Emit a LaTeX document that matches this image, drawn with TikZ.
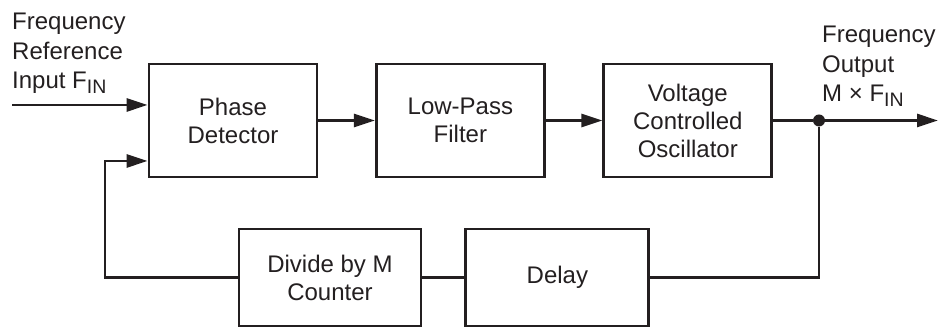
\documentclass[tikz,border=0pt]{standalone}
\usepackage{fontspec}
\setmainfont{Liberation Sans}
\usepackage{xcolor}
\definecolor{cLine}{HTML}{231F20}
\usetikzlibrary{positioning,arrows.meta}
\tikzset{
  node-box/.style={draw=cLine,line width=2.9pt,minimum height=113pt,
    minimum width=168pt,inner sep=0pt,align=center,text=cLine,
    font=\fontsize{24}{28}\selectfont},
  node-label/.style={anchor=north west,inner sep=0pt,align=left,text=cLine,
    font=\fontsize{24}{29.5}\selectfont},
  node-dot/.style={circle,fill=cLine,inner sep=0pt,minimum size=12pt},
  arrow/.style={-{Triangle[length=21pt,width=13pt]},line width=2.8pt,draw=cLine},
  wire/.style={line width=2.8pt,draw=cLine},
}
\newcommand{\fin}{F\raisebox{-5pt}{\fontsize{19.5}{19.5}\selectfont IN}}

\begin{document}
\begin{tikzpicture}[x=1pt,y=1pt,node distance=56.5pt and 56.5pt]
  \useasboundingbox (0,0) rectangle (938,328);
  % forward path
  \node[node-box] at (233,207.5)  (pd)  {Phase\\Detector};
  \node[node-box,right=of pd]     (lpf) {Low-Pass\\Filter};
  \node[node-box,right=of lpf]    (vco) {Voltage\\Controlled\\Oscillator};
  % feedback path
  \node[node-box,minimum width=182pt,minimum height=97pt] at (330,50.5) (div) {Divide by M\\Counter};
  \node[node-box,minimum width=183pt,minimum height=97pt,right=42pt of div] (dly) {Delay};
  \node[node-dot] at (819,207.5) (tap) {};
  \coordinate (in)  at (12,223);
  \coordinate (fb)  at (105,167);
  \coordinate (out) at (938,207.5);
  % labels
  \node[node-label] at (12,315)  (inlbl)  {Frequency\\Reference\\Input \fin};
  \node[node-label] at (822,302) (outlbl) {Frequency\\Output\\M × \fin};
  % connections
  \draw[arrow] (in) -- (in -| pd.west);
  \draw[arrow] (pd) -- (lpf);
  \draw[arrow] (lpf) -- (vco);
  \draw[wire]  (vco) -- (tap);
  \draw[arrow] (tap) -- (out);
  \draw[wire]  (tap) |- (dly);
  \draw[wire]  (dly) -- (div);
  \draw[arrow] (div.west) -| (fb) -- (fb -| pd.west);
\end{tikzpicture}
\end{document}
